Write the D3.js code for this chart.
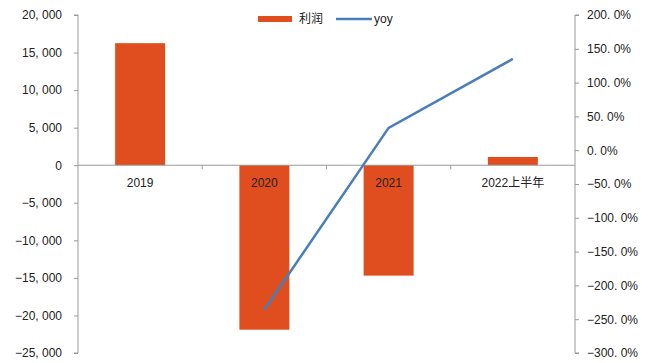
<!DOCTYPE html>
<html>
<head>
<meta charset="utf-8">
<script src="https://cdn.jsdelivr.net/npm/d3@7"></script>
<style>
  body { margin: 0; background: #fff; }
  text { font-family: "Liberation Sans", Arial, "Noto Sans CJK SC", sans-serif; font-size: 12px; fill: #222; }
</style>
</head>
<body>
<svg id="chart" width="647" height="363"></svg>
<script>
const categories = ['2019', '2020', '2021', '2022上半年']
const profit = [16250, -21900, -14700, 1100]
const yoy = [null, -2.36, 0.33, 1.35]
const leftTicks = [20000, 15000, 10000, 5000, 0, -5000, -10000, -15000, -20000, -25000]
const rightTicks = [2, 1.5, 1, 0.5, 0, -0.5, -1, -1.5, -2, -2.5, -3]

const svg = d3.select('#chart')
const mLeft = 78, mRight = 575, mTop = 15, mBottom = 353

const xb = d3.scaleBand().domain(categories).range([mLeft, mRight])
const y = d3.scaleLinear().domain([-25000, 20000]).range([mBottom, mTop])
const y2 = d3.scaleLinear().domain([-3, 2]).range([mBottom, mTop])

const fmtL = v => d3.format(',')(v).replace(',', ', ')
const fmtR = v => d3.format('.1f')(v * 100).replace('.', '. ') + '%'

// bars
svg.selectAll('rect.bar').data(profit).join('rect')
  .attr('class', 'bar')
  .attr('x', (d, i) => xb(categories[i]) + xb.bandwidth() / 2 - 25)
  .attr('width', 50)
  .attr('y', d => y(Math.max(0, d)))
  .attr('height', d => Math.abs(y(d) - y(0)))
  .attr('fill', '#e04e1f')

// left axis
const la = svg.append('g').attr('transform', `translate(${mLeft},0)`)
  .call(d3.axisLeft(y).tickValues(leftTicks).tickFormat(fmtL).tickSize(4).tickPadding(12))
la.select('.domain').attr('stroke', '#999').attr('d', `M-4,${mTop}H0V${mBottom}H-4`)
la.selectAll('.tick line').attr('stroke', '#999')
la.selectAll('text').attr('fill', '#222').style('font-size', '12px')

// right axis
const ra = svg.append('g').attr('transform', `translate(${mRight},0)`)
  .call(d3.axisRight(y2).tickValues(rightTicks).tickFormat(fmtR).tickSize(4).tickPadding(8))
ra.select('.domain').attr('stroke', '#999').attr('d', `M4,${mTop}H0V${mBottom}H4`)
ra.selectAll('.tick line').attr('stroke', '#999')
ra.selectAll('text').attr('fill', '#222').style('font-size', '12px')

// zero line with category ticks
const za = svg.append('g').attr('transform', `translate(0,${y(0)})`)
za.append('line').attr('x1', mLeft).attr('x2', mRight).attr('stroke', '#999')
za.selectAll('line.ct').data(categories.slice(1)).join('line')
  .attr('class', 'ct')
  .attr('x1', d => xb(d)).attr('x2', d => xb(d))
  .attr('y1', 0).attr('y2', 4).attr('stroke', '#999')
za.selectAll('text').data(categories).join('text')
  .attr('x', d => xb(d) + xb.bandwidth() / 2)
  .attr('y', 22)
  .attr('text-anchor', 'middle')
  .text(d => d)

// yoy line
const line = d3.line()
  .defined(d => d[1] != null)
  .x(d => xb(d[0]) + xb.bandwidth() / 2)
  .y(d => y2(d[1]))
svg.append('path')
  .datum(categories.map((c, i) => [c, yoy[i]]))
  .attr('d', line)
  .attr('fill', 'none')
  .attr('stroke', '#4a7ebb')
  .attr('stroke-width', 2.5)

// legend
const lg = svg.append('g')
lg.append('rect').attr('x', 258).attr('y', 16).attr('width', 34).attr('height', 6).attr('fill', '#e04e1f')
lg.append('text').attr('x', 299).attr('y', 23).text('利润')
lg.append('line').attr('x1', 336).attr('x2', 372).attr('y1', 19).attr('y2', 19).attr('stroke', '#4a7ebb').attr('stroke-width', 2.5)
lg.append('text').attr('x', 374).attr('y', 23).text('yoy')
</script>
</body>
</html>
